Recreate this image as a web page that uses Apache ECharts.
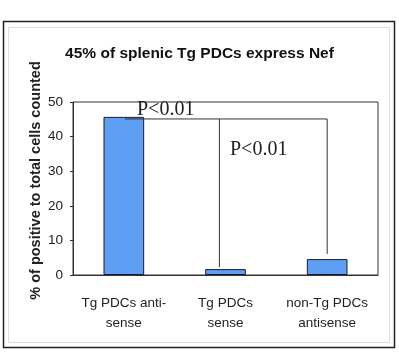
<!DOCTYPE html>
<html>
<head>
<meta charset="utf-8">
<script src="https://cdn.jsdelivr.net/npm/echarts@6/dist/echarts.min.js"></script>
<style>
  html, body { margin: 0; padding: 0; background: #fff; }
  #chart { width: 399px; height: 356px; }
</style>
</head>
<body>
<div id="chart"></div>
<script>
// 类别与数值
var categories = ['Tg PDCs anti-\nsense', 'Tg PDCs\nsense', 'non-Tg PDCs\nantisense'];
var percentValues = [45.7, 1.7, 4.6];
var yTicks = [0, 10, 20, 30, 40, 50];
// 显著性括号（x 为类别序号，y 为百分比）
var bracketTop = [[0.01, 45.1], [2.0, 45.1], [2.0, 6.1]];
var bracketMid = [[0.94, 45.1], [0.94, 2.3]];
var pLabels = ['P<0.01', 'P<0.01'];

var chart = echarts.init(document.getElementById('chart'));

var option = {
  backgroundColor: '#fff',
  animation: false,
  title: {
    text: '45% of splenic Tg PDCs express Nef',
    left: 'center',
    top: 41,
    textStyle: {
      fontFamily: 'Liberation Sans, Arial, sans-serif',
      fontSize: 15.5,
      fontWeight: 'bold',
      color: '#111'
    }
  },
  grid: {
    left: 73,
    right: 21,
    top: 102,
    bottom: 81,
    show: true,
    borderColor: '#333',
    borderWidth: 1
  },
  xAxis: [
    {
      type: 'category',
      data: categories,
      axisLine: { lineStyle: { color: '#333' } },
      axisTick: { show: false },
      axisLabel: {
        interval: 0,
        margin: 18,
        lineHeight: 20,
        fontFamily: 'Liberation Sans, Arial, sans-serif',
        fontSize: 13.5,
        color: '#222'
      }
    },
    {
      // 括号用的隐藏数值轴
      type: 'value',
      min: -0.5,
      max: 2.5,
      show: false
    }
  ],
  yAxis: {
    type: 'value',
    min: yTicks[0],
    max: yTicks[yTicks.length - 1],
    interval: 10,
    name: '% of positive to total cells counted',
    nameLocation: 'middle',
    nameGap: 30,
    nameMoveOverlap: false,
    nameTextStyle: {
      fontFamily: 'Liberation Sans, Arial, sans-serif',
      fontSize: 14.5,
      fontWeight: 'bold',
      color: '#222',
      padding: [0, 0, 0, 16]
    },
    axisLine: { show: true, onZero: false, lineStyle: { color: '#333' } },
    axisTick: { show: true, length: 3, lineStyle: { color: '#333' } },
    splitLine: { show: false },
    axisLabel: {
      margin: 10,
      fontFamily: 'Liberation Sans, Arial, sans-serif',
      fontSize: 13.5,
      color: '#222'
    }
  },
  series: [
    {
      type: 'bar',
      data: percentValues,
      barWidth: '40%',
      itemStyle: {
        color: '#5e9ff3',
        borderColor: '#1c1c30',
        borderWidth: 1
      }
    },
    {
      type: 'line',
      xAxisIndex: 1,
      data: bracketTop,
      symbol: 'none',
      lineStyle: { color: '#333', width: 1 },
      z: 5
    },
    {
      type: 'line',
      xAxisIndex: 1,
      data: bracketMid,
      symbol: 'none',
      lineStyle: { color: '#333', width: 1 },
      z: 5
    }
  ],
  graphic: [
    {
      type: 'rect',
      shape: { x: 3.5, y: 21.5, width: 391, height: 326 },
      style: { fill: 'none', stroke: '#222', lineWidth: 1.5 }
    },
    {
      type: 'rect',
      shape: { x: 8.5, y: 27.5, width: 381, height: 315 },
      style: { fill: 'none', stroke: '#ddd', lineWidth: 1 }
    },
    {
      type: 'text',
      left: 137,
      top: 100,
      z: 10,
      style: {
        text: pLabels[0],
        font: '20px "Liberation Serif", "Times New Roman", serif',
        fill: '#222'
      }
    },
    {
      type: 'text',
      left: 230,
      top: 140,
      z: 10,
      style: {
        text: pLabels[1],
        font: '20px "Liberation Serif", "Times New Roman", serif',
        fill: '#222'
      }
    }
  ]
};

chart.setOption(option);
</script>
</body>
</html>
